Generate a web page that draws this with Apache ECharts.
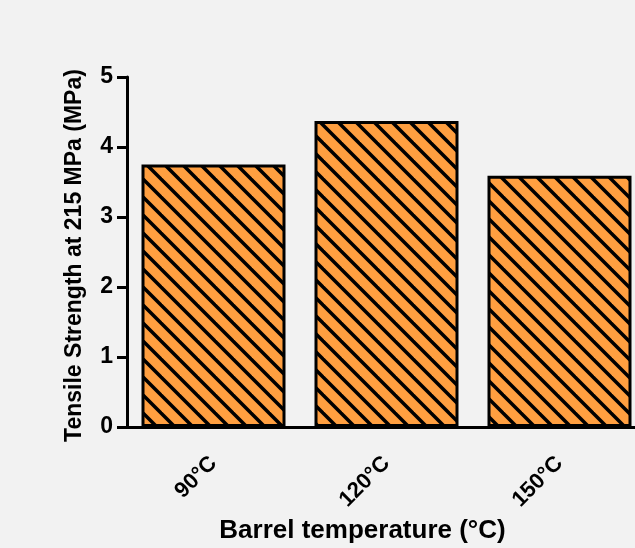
<!DOCTYPE html>
<html><head><meta charset="utf-8">
<script src="https://cdn.jsdelivr.net/npm/echarts@6/dist/echarts.min.js"></script>
<style>html,body{margin:0;padding:0;background:#f2f2f2;overflow:hidden}#wrap{width:635px;height:548px;overflow:hidden}#c{width:646px;height:548px}</style>
</head><body><div id="wrap"><div id="c"></div></div>
<script>
const categories = ['90°C', '120°C', '150°C'];
const strengthValues = [3.75, 4.37, 3.59];
const yAxisTitle = 'Tensile Strength at 215 MPa (MPa)';
const xAxisTitle = 'Barrel temperature (°C)';

const FONT = '"Liberation Sans", Arial, sans-serif';

// diagonal hatch pattern tile
const tile = document.createElement('canvas');
tile.width = 18; tile.height = 18;
const g = tile.getContext('2d');
g.fillStyle = '#ff9f40';
g.fillRect(0, 0, 18, 18);
g.strokeStyle = '#000';
g.lineWidth = 3.5;
for (let k = -1; k <= 1; k++) {
  g.beginPath();
  g.moveTo(k * 18 - 2, -2);
  g.lineTo(k * 18 + 20, 20);
  g.stroke();
}

const chart = echarts.init(document.getElementById('c'), null, {renderer: 'canvas'});
chart.setOption({
  backgroundColor: '#f2f2f2',
  animation: false,
  grid: {left: 127, right: 0, top: 77, bottom: 121, containLabel: false},
  xAxis: {
    type: 'category',
    data: categories,
    boundaryGap: true,
    axisLine: {lineStyle: {color: '#000', width: 3}},
    axisTick: {alignWithLabel: true, length: 9, lineStyle: {color: '#000', width: 3}},
    axisLabel: {rotate: 45, margin: 33, color: '#000', fontSize: 22, fontWeight: 'bold', fontFamily: FONT}
  },
  yAxis: {
    type: 'value',
    min: 0, max: 5, interval: 1,
    splitLine: {show: false},
    axisLine: {show: true, lineStyle: {color: '#000', width: 3}},
    axisTick: {show: true, length: 10, lineStyle: {color: '#000', width: 3}},
    axisLabel: {margin: 14, color: '#000', fontSize: 23, fontWeight: 'bold', fontFamily: FONT}
  },
  series: [{
    type: 'bar',
    data: strengthValues,
    barWidth: 144,
    itemStyle: {
      color: {image: tile, repeat: 'repeat'},
      borderColor: '#000',
      borderWidth: 3
    }
  }],
  graphic: [
    {type: 'text', x: 362.5, y: 531, style: {text: xAxisTitle, align: 'center', verticalAlign: 'middle', fill: '#000', font: 'bold 26px ' + FONT}},
    {type: 'text', x: 74.5, y: 255.5, rotation: Math.PI / 2, style: {text: yAxisTitle, align: 'center', verticalAlign: 'middle', fill: '#000', font: 'bold 23px ' + FONT}}
  ]
});
</script>
</body></html>
